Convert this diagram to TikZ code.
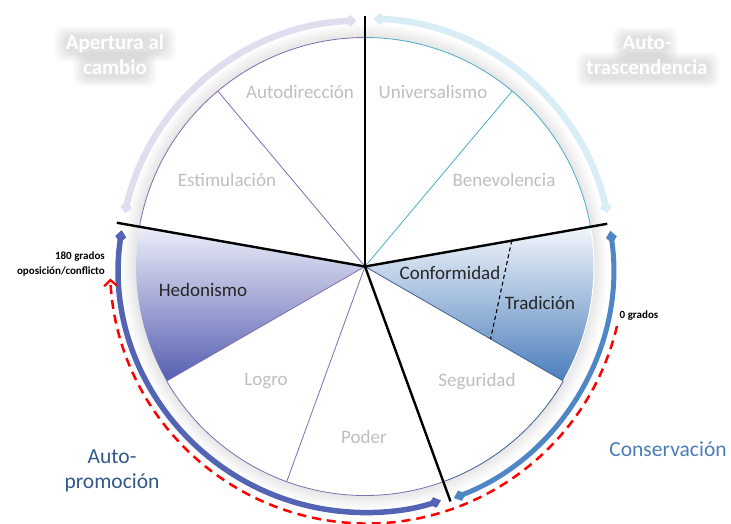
\documentclass[tikz,border=0pt]{standalone}
\usepackage{fontspec}
\setmainfont{Carlito}
\usetikzlibrary{arrows.meta,calc}
\definecolor{purp}{RGB}{128,108,176}
\definecolor{cyanl}{RGB}{75,172,198}
\definecolor{segblue}{RGB}{60,95,145}
\definecolor{lav}{RGB}{226,221,238}
\definecolor{lcyan}{RGB}{216,237,245}
\definecolor{promo}{RGB}{84,100,180}
\definecolor{cons}{RGB}{79,134,198}
\definecolor{labgray}{RGB}{191,191,191}
\definecolor{promotext}{RGB}{50,88,140}
\definecolor{constext}{RGB}{74,126,187}
\definecolor{hedtop}{RGB}{236,238,248}
\definecolor{hedbot}{RGB}{86,94,176}
\definecolor{contop}{RGB}{242,246,251}
\definecolor{conbot}{RGB}{76,126,188}
% soft shadow blob behind one line of text: centre, width, height
\newcommand{\softblob}[3]{%
  \foreach \k in {0,...,9}{
    \node[fill=black,fill opacity=0.013,draw=none,rounded corners=9pt,
      minimum width=#2+22-2.4*\k,minimum height=#3+20-2*\k,inner sep=0pt] at ($(#1)+(0,-2)$) {};
  }
}
\begin{document}
\begin{tikzpicture}[x=1pt,y=1pt,
  seglabel/.style={text=labgray,font=\fontsize{19}{19}\selectfont,inner sep=0pt},
  darklabel/.style={text=black!85,font=\fontsize{19}{19}\selectfont,inner sep=0pt},
  whitelab/.style={text=white,font=\bfseries\fontsize{21}{25}\selectfont,align=center,inner sep=0pt},
  grouplab/.style={font=\fontsize{21.5}{25}\selectfont,align=center,inner sep=0pt},
  smalllab/.style={text=black,font=\bfseries\fontsize{11}{15}\selectfont,inner sep=0pt},
  blackline/.style={black,line width=2.4pt},
  thinline/.style={line width=0.8pt},
  ]
\useasboundingbox (0,0) rectangle (731,523);
\coordinate (C) at (365,256.5);
\coordinate (R) at (367,256.5);
% soft shadow around the circle
\foreach \i in {1,...,8}
  \fill[black,opacity=0.011] (C) circle[radius=229+\i*1.7];
\fill[white] (C) circle[radius=229];
% shaded wedges
\shade[top color=hedtop,bottom color=hedbot] (C) -- ++(170:229) arc[start angle=170,end angle=210,radius=229] -- cycle;
\shade[top color=contop,bottom color=conbot] (C) -- ++(10:229) arc[start angle=10,end angle=-30,radius=229] -- cycle;
% circle outline
\draw[purp,thinline] ($(C)+(90:229)$) arc[start angle=90,end angle=170,radius=229];
\draw[purp,thinline] ($(C)+(210:229)$) arc[start angle=210,end angle=290,radius=229];
\draw[cyanl,thinline] ($(C)+(10:229)$) arc[start angle=10,end angle=90,radius=229];
\draw[segblue,thinline] ($(C)+(-70:229)$) arc[start angle=-70,end angle=-30,radius=229];
\draw[white,line width=1pt] ($(C)+(-30:229)$) arc[start angle=-30,end angle=10,radius=229];
% thin radial dividers
\coordinate (d130) at ($(C)+(130:229)$);
\coordinate (d210) at ($(C)+(210:229)$);
\coordinate (d250) at ($(C)+(250:229)$);
\coordinate (d50) at ($(C)+(50:229)$);
\coordinate (dm30) at ($(C)+(-30:229)$);
\draw[purp,thinline] (C) -- (d130);
\draw[purp,thinline] (C) -- (d210);
\draw[purp,thinline] (C) -- (d250);
\draw[cyanl,thinline] (C) -- (d50);
\draw[segblue,thinline] (C) -- (dm30);
% dashed divider Conformidad / Tradicion
\coordinate (t1) at ($(C)+(10:149)$);
\coordinate (t2) at ($(C)+(-30:145)$);
\draw[black,line width=1.1pt,dash pattern=on 4pt off 3pt] (t1) -- (t2);
% black axes
\coordinate (b90) at ($(C)+(90:250)$);
\coordinate (b170) at ($(C)+(170:252)$);
\coordinate (b10) at ($(C)+(10:246)$);
\coordinate (bm70) at ($(C)+(-70:250)$);
\draw[blackline] (C) -- (b90);
\draw[blackline] (C) -- (b170);
\draw[blackline] (C) -- (b10);
\draw[blackline] (C) -- (bm70);
% outer arrows
\draw[lav,line width=6.5pt,{Diamond[length=12pt,width=12pt]}-{Diamond[length=12pt,width=12pt]}]
  ($(C)+(167.5:246)$) arc[start angle=167.5,end angle=92,radius=246];
\draw[lcyan,line width=6.5pt,{Diamond[length=12pt,width=12pt]}-{Diamond[length=12pt,width=12pt]}]
  ($(C)+(88:248)$) arc[start angle=88,end angle=12.4,radius=248];
\draw[promo,line width=5.5pt,{Diamond[length=13pt,width=11pt]}-{Diamond[length=13pt,width=11pt]}]
  ($(C)+(171.5:246)$) arc[start angle=171.5,end angle=288,radius=246];
\draw[cons,line width=5pt,{Diamond[length=13pt,width=11pt]}-{Diamond[length=13pt,width=11pt]}]
  ($(C)+(8.3:248)$) arc[start angle=8.3,end angle=-69,radius=248];
% red dashed arrow
\draw[red,line width=2.5pt,dash pattern=on 9pt off 6pt,-{Straight Barb[length=6pt,width=13pt,line width=2.2pt]}]
  ($(R)+(-13.4:257)$) arc[start angle=-13.4,end angle=-177.3,radius=257];
% segment labels
\node[seglabel] (autod) at (300,431) {Autodirección};
\node[seglabel] (univ) at (433,431) {Universalismo};
\node[seglabel] (estim) at (227,343) {Estimulación};
\node[seglabel] (benev) at (504,343) {Benevolencia};
\node[seglabel] (logro) at (266,142) {Logro};
\node[seglabel] (segur) at (477,141) {Seguridad};
\node[seglabel] (poder) at (364,86) {Poder};
\node[darklabel] (hedon) at (203,233) {Hedonismo};
\node[darklabel] (conf) at (450,250) {Conformidad};
\node[darklabel] (trad) at (540,220) {Tradición};
% group labels with soft shadow
\coordinate (ap1) at (115,481);
\coordinate (ap2) at (115,456);
\coordinate (at1) at (645,480);
\coordinate (at2) at (648,455);
\softblob{ap1}{100}{16}
\softblob{ap2}{62}{16}
\softblob{at1}{44}{16}
\softblob{at2}{122}{16}
\node[whitelab] (aplab) at (115,468) {Apertura al\\cambio};
\node[whitelab] (atlab) at (647,468) {Auto-\\trascendencia};
\node[grouplab,text=promotext] (promo) at (112,52) {Auto-\\promoción};
\node[grouplab,text=constext] (cons) at (668,74) {Conservación};
\node[smalllab,align=right,anchor=east] (g180) at (105,258.5) {180 grados\\oposición/conflicto};
\node[smalllab] (g0) at (639,207) {0 grados};
\end{tikzpicture}
\end{document}
